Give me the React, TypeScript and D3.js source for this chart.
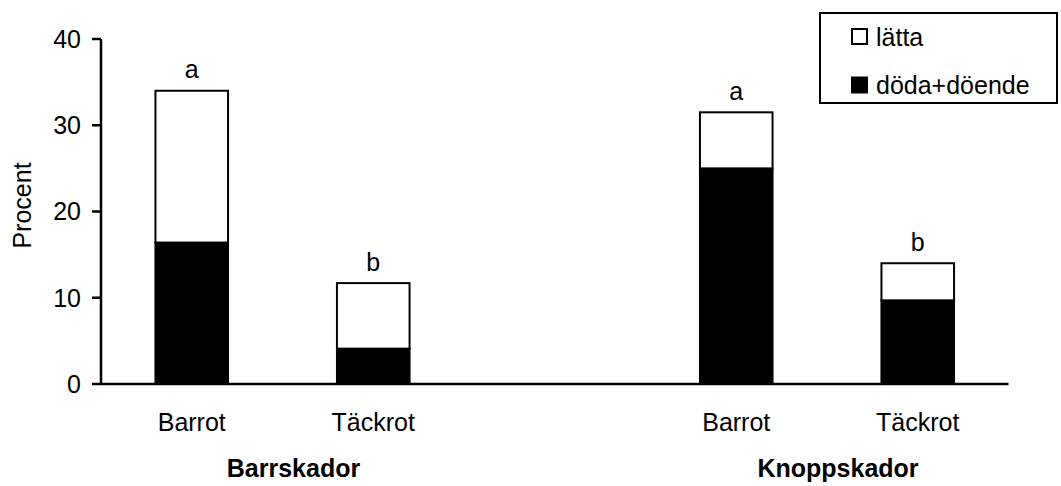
import React from "react";
import * as d3 from "d3";

// Damage shares (%) per seedling type, grouped by damage kind
const groups = ["Barrskador", "Knoppskador"];
const rootTypes = ["Barrot", "Täckrot"];
const dodaDoende = [16.4, 4.1, 25.0, 9.7]; // dead + dying
const latta = [17.6, 7.6, 6.5, 4.3]; // light damage
const sigLetters = ["a", "b", "a", "b"];
const yTicks = [0, 10, 20, 30, 40];
const seriesKeys = ["doda", "latta"];
const seriesLabels = ["döda+döende", "lätta"];
const seriesFill: Record<string, string> = { doda: "#000000", latta: "#ffffff" };

const W = 1061;
const H = 486;
const FONT = "'Liberation Sans', Arial, Helvetica, sans-serif";
const FS = 25;

const plotLeft = 101;
const plotRight = 1008.5;
const plotTop = 39;
const plotBottom = 384;

export default function App() {
  // slots: two bars per group with an empty slot between the groups
  const bars = groups.flatMap((g, gi) =>
    rootTypes.map((r, ri) => ({
      key: `${g}|${r}`,
      group: g,
      root: r,
      idx: gi * rootTypes.length + ri,
    }))
  );
  const slotKeys = [bars[0].key, bars[1].key, "gap", bars[2].key, bars[3].key];

  const x = d3
    .scaleBand<string>()
    .domain(slotKeys)
    .range([plotLeft, plotRight])
    .paddingInner(0.6)
    .paddingOuter(0.3);

  const y = d3.scaleLinear().domain([0, 40]).range([plotBottom, plotTop]);

  const rows = bars.map((b) => ({
    key: b.key,
    doda: dodaDoende[b.idx],
    latta: latta[b.idx],
  }));
  const stacked = d3.stack<any>().keys(seriesKeys)(rows);

  const slotCenter = (k: string) => (x(k) as number) + x.bandwidth() / 2;

  return (
    <svg
      width={W}
      height={H}
      style={{ position: "absolute", left: 0, top: 0, background: "#fff" }}
      fontFamily={FONT}
    >
      <rect x={0} y={0} width={W} height={H} fill="#fff" />

      {/* stacked bars */}
      {stacked.map((s) => (
        <g key={s.key}>
          {s.map((d: any, i: number) => (
            <rect
              key={i}
              x={x(rows[i].key)}
              y={y(d[1])}
              width={x.bandwidth()}
              height={y(d[0]) - y(d[1])}
              fill={seriesFill[s.key]}
              stroke="#000"
              strokeWidth={2}
            />
          ))}
        </g>
      ))}

      {/* significance letters */}
      {rows.map((r, i) => (
        <text
          key={r.key}
          x={slotCenter(r.key)}
          y={y(r.doda + r.latta) - 12.5}
          textAnchor="middle"
          fontSize={FS}
        >
          {sigLetters[i]}
        </text>
      ))}

      {/* y axis */}
      <line x1={plotLeft} x2={plotLeft} y1={plotTop} y2={plotBottom} stroke="#000" strokeWidth={2.5} />
      {yTicks.map((t) => (
        <g key={t}>
          <line x1={plotLeft - 9} x2={plotLeft} y1={y(t)} y2={y(t)} stroke="#000" strokeWidth={2.5} />
          <text x={plotLeft - 20} y={y(t)} dy="0.35em" textAnchor="end" fontSize={FS}>
            {t}
          </text>
        </g>
      ))}
      <text
        transform={`translate(31, ${(plotTop + plotBottom) / 2 - 6}) rotate(-90)`}
        textAnchor="middle"
        fontSize={FS}
      >
        Procent
      </text>

      {/* x axis */}
      <line x1={plotLeft} x2={plotRight} y1={plotBottom} y2={plotBottom} stroke="#000" strokeWidth={2.5} />
      {bars.map((b) => (
        <text key={b.key} x={slotCenter(b.key)} y={431} textAnchor="middle" fontSize={FS}>
          {b.root}
        </text>
      ))}
      {groups.map((g, gi) => {
        const first = bars[gi * 2].key;
        const last = bars[gi * 2 + 1].key;
        const cx = (slotCenter(first) + slotCenter(last)) / 2 + 11;
        return (
          <text key={g} x={cx} y={477} textAnchor="middle" fontSize={FS} fontWeight="bold">
            {g}
          </text>
        );
      })}

      {/* legend */}
      <rect x={820} y={13} width={237} height={90} fill="#fff" stroke="#000" strokeWidth={2} />
      {["latta", "doda"].map((k, i) => (
        <g key={k}>
          <rect
            x={852}
            y={29 + i * 48.5}
            width={15}
            height={15}
            fill={seriesFill[k]}
            stroke="#000"
            strokeWidth={2}
          />
          <text x={876} y={46 + i * 48} fontSize={FS}>
            {seriesLabels[seriesKeys.indexOf(k)]}
          </text>
        </g>
      ))}
    </svg>
  );
}
